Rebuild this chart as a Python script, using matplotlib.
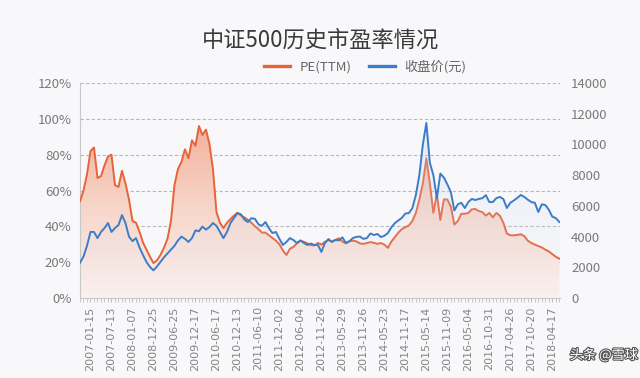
import matplotlib
matplotlib.use("Agg")
import matplotlib.pyplot as plt
import matplotlib.patheffects as pe
from matplotlib.colors import LinearSegmentedColormap
from matplotlib.ticker import FixedLocator, MultipleLocator, FuncFormatter
import numpy as np

plt.rcParams['font.family'] = ['Noto Sans CJK SC', 'DejaVu Sans']

# x labels shown every 6th point of the series (category axis)
date_labels = ["2007-01-15", "2007-07-13", "2008-01-07", "2008-12-25", "2009-06-25",
               "2009-12-17", "2010-06-17", "2010-12-13", "2011-06-10", "2011-12-02",
               "2012-06-04", "2012-11-26", "2013-05-29", "2013-11-26", "2014-05-23",
               "2014-11-17", "2015-05-14", "2015-11-09", "2016-05-04", "2016-10-31",
               "2017-04-26", "2017-10-20", "2018-04-17"]

# PE(TTM) in %
pe_ttm = [54, 60, 69, 82, 84, 67, 68, 74, 79, 80,
          63, 62, 71, 64, 55, 43, 42, 37, 31, 27,
          23, 19.5, 21, 24, 28, 33, 43, 63, 72, 76,
          83, 78, 88, 85, 96, 91, 94, 86, 72, 48,
          42, 39, 42, 44, 46, 47.5, 46, 45, 43.6, 42,
          40, 38.5, 36.5, 36.5, 35, 33.5, 32, 30, 26.5, 24,
          27.5, 28.5, 30.5, 32, 31.3, 30.5, 29.5, 29.3, 30.7, 29.8,
          31.3, 32.2, 31.5, 32.4, 33.3, 31.5, 30.5, 31.6, 32, 31.6,
          30.5, 30.2, 30.7, 31.2, 30.8, 30.2, 30.7, 29.8, 28, 31.5,
          34, 36.5, 38.5, 39.5, 40.5, 43, 47.5, 55, 64, 78,
          64, 47.5, 58, 43.6, 55, 55, 51, 41, 43, 47,
          47, 47.5, 49.5, 49.7, 48.5, 48, 46, 47.5, 45, 47.5,
          46, 42, 36, 35, 35, 35.2, 35.6, 34.5, 32, 30.7,
          29.8, 29, 28.2, 27, 26, 24.5, 23, 22]

# closing price (yuan)
close = [2300, 2700, 3400, 4300, 4300, 3900, 4300, 4550, 4880, 4300,
         4560, 4750, 5400, 4880, 4000, 3700, 3900, 3300, 2800, 2350,
         2020, 1800, 2050, 2350, 2650, 2900, 3150, 3400, 3750, 4000,
         3850, 3650, 3900, 4400, 4350, 4650, 4450, 4620, 4880, 4700,
         4300, 3900, 4300, 4880, 5200, 5530, 5450, 5100, 4950, 5200,
         5150, 4800, 4700, 4950, 4550, 4230, 4300, 3850, 3450, 3650,
         3900, 3780, 3580, 3750, 3580, 3450, 3550, 3450, 3450, 3000,
         3580, 3840, 3650, 3780, 3750, 3950, 3580, 3700, 3900, 3980,
         4000, 3850, 3900, 4200, 4100, 4170, 3970, 4050, 4230, 4600,
         4880, 5050, 5220, 5500, 5530, 5850, 6700, 8000, 10000, 11400,
         8800, 8000, 6500, 8100, 7850, 7400, 6900, 5700, 6100, 6200,
         5860, 6250, 6450, 6380, 6450, 6500, 6700, 6250, 6250, 6500,
         6580, 6450, 5860, 6200, 6350, 6520, 6710, 6580, 6400, 6250,
         6200, 5600, 6100, 6050, 5750, 5300, 5200, 4950]

bg = '#f8f7f9'
orange = '#e8623a'
blue = '#3d7cc6'

fig = plt.figure(figsize=(6.4, 3.78), dpi=100, facecolor=bg)
ax = fig.add_axes([80/640, 1-298/378, 480/640, 215/378])
ax.set_facecolor(bg)
x = np.arange(len(pe_ttm))
xmax = 137.2

# orange area with vertical gradient
fb = ax.fill_between(x, pe_ttm, 0, facecolor='none', edgecolor='none')
cm_o = LinearSegmentedColormap.from_list('o', ['#fbf1ef', '#f7d6ca', '#f1ae96'])
grad = np.linspace(0, 1, 256).reshape(-1, 1)
im = ax.imshow(grad, cmap=cm_o, origin='lower', aspect='auto',
               extent=[0, xmax, 0, 100], zorder=1)
im.set_clip_path(fb.get_paths()[0], ax.transData)
ax.plot(x, pe_ttm, color=orange, lw=1.4, zorder=3)

ax.set_ylim(0, 120)
ax.set_xlim(0, xmax)
ax.yaxis.set_major_locator(MultipleLocator(20))
ax.yaxis.set_major_formatter(FuncFormatter(lambda v, p: '%d%%' % v))
ax.grid(axis='y', color='#b8b8b8', ls=(0, (3, 2)), lw=0.8)
ax.set_axisbelow(True)
for s in ['top', 'right']:
    ax.spines[s].set_visible(False)
ax.spines['left'].set_color('#c8c8c8')
ax.spines['bottom'].set_color('#c8c8c8')
ax.tick_params(axis='y', length=0, labelsize=9.5, labelcolor='#7a7a7a', pad=6)

ax.xaxis.set_major_locator(FixedLocator([3 + 6*k for k in range(len(date_labels))]))
ax.set_xticklabels(date_labels, rotation=90, fontsize=8, color='#858585',
                   family=['Liberation Sans Narrow', 'DejaVu Sans'])
ax.xaxis.set_minor_locator(MultipleLocator(1))
ax.tick_params(axis='x', which='both', length=3, color='#c0c0c0', pad=3)

# right axis: closing price
ax2 = ax.twinx()
fb2 = ax2.fill_between(x, close, 0, facecolor='none', edgecolor='none')
cm_b = LinearSegmentedColormap.from_list('b', [(0.85, 0.9, 0.97, 0.0), (0.75, 0.83, 0.95, 0.35)])
im2 = ax2.imshow(grad, cmap=cm_b, origin='lower', aspect='auto',
                 extent=[0, xmax, 0, 12000], zorder=1)
im2.set_clip_path(fb2.get_paths()[0], ax2.transData)
ax2.plot(x, close, color=blue, lw=1.4, zorder=3)
ax2.set_ylim(0, 14000)
ax2.set_xlim(0, xmax)
ax2.yaxis.set_major_locator(MultipleLocator(2000))
for s in ['top', 'right', 'left', 'bottom']:
    ax2.spines[s].set_visible(False)
ax2.tick_params(axis='y', length=0, labelsize=9.5, labelcolor='#7a7a7a', pad=8)

# legend
h1, = ax.plot([], [], color=orange, lw=2.4)
h2, = ax.plot([], [], color=blue, lw=2.4)
fig.legend([h1, h2], ['PE(TTM)', '收盘价(元)'], loc='center', ncol=2,
           bbox_to_anchor=(365/640, 1-67/378), frameon=False, fontsize=9.5,
           labelcolor='#666666', handlelength=2.0, handletextpad=0.7, columnspacing=1.3)

fig.text(0.5, 1-40/378, '中证500历史市盈率情况', ha='center', va='center',
         fontsize=16, color='#3a3a3a')

fig.text(604/640, 1-355/378, '头条 @雪球', ha='center', va='center', fontsize=9.5,
         color='white', path_effects=[pe.withStroke(linewidth=1.6, foreground='#555555')])

fig.savefig('out.png', dpi=100, facecolor=bg)
